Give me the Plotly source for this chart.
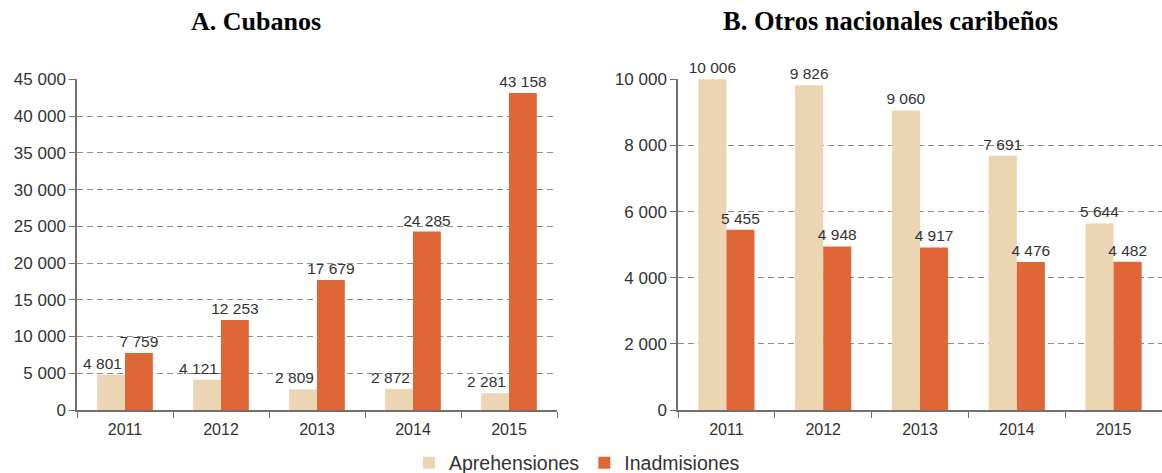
import plotly.graph_objects as go

years = ["2011", "2012", "2013", "2014", "2015"]

cubanos_aprehensiones = [4801, 4121, 2809, 2872, 2281]
cubanos_inadmisiones = [7759, 12253, 17679, 24285, 43158]

caribe_aprehensiones = [10006, 9826, 9060, 7691, 5644]
caribe_inadmisiones = [5455, 4948, 4917, 4476, 4482]

COLORS = {
    "aprehensiones": "#ebd5b2",
    "inadmisiones": "#df6737",
    "grid": "#8c8c8c",
    "axis": "#707070",
    "text": "#333333",
}

W, H = 1162, 473
FONT = "Liberation Sans, Arial, sans-serif"
SERIF = "Liberation Serif, Times New Roman, serif"
NBSP = "\u00a0"

fig = go.Figure()

panels = [
    ("x", "y", cubanos_aprehensiones, cubanos_inadmisiones, True),
    ("x2", "y2", caribe_aprehensiones, caribe_inadmisiones, False),
]
for xa, ya, aprehensiones, inadmisiones, show in panels:
    for name, vals in (("Aprehensiones", aprehensiones), ("Inadmisiones", inadmisiones)):
        # in panel A the small beige labels sit a little to the left of their bars
        tmpl = "%{y:,d}"
        if show and name == "Aprehensiones":
            tmpl += NBSP * 4
        fig.add_trace(go.Bar(
            x=years, y=vals, name=name, xaxis=xa, yaxis=ya,
            marker=dict(color=COLORS[name.lower()], line=dict(width=0)),
            texttemplate=tmpl, textposition="outside", constraintext="none",
            textfont=dict(size=15.5, color=COLORS["text"], family=FONT),
            cliponaxis=False, showlegend=show, legendgroup=name,
        ))


def xaxis(x0, x1):
    return dict(
        domain=[x0 / W, x1 / W], showline=True, linecolor=COLORS["axis"], linewidth=1.5,
        ticks="outside", tickson="boundaries", ticklen=6, tickcolor=COLORS["axis"],
        tickfont=dict(size=16, color=COLORS["text"], family=FONT), showgrid=False,
        ticklabelstandoff=4,
    )


def yaxis(top, dtick, anchor):
    return dict(
        domain=[1 - 410 / H, 1 - 79 / H], range=[0, top], dtick=dtick, anchor=anchor,
        showline=True, linecolor=COLORS["axis"], linewidth=1.5,
        ticks="outside", ticklen=6, tickcolor=COLORS["axis"],
        tickformat=",d", tickfont=dict(size=17, color=COLORS["text"], family=FONT),
        gridcolor=COLORS["grid"], griddash="6px,4px", gridwidth=1, zeroline=False,
        automargin=False,
    )


fig.update_layout(
    width=W, height=H,
    # keep the bottom legend from pushing the plot areas up
    margin=dict(l=0, r=0, t=0, b=0, autoexpand=False),
    paper_bgcolor="white",
    plot_bgcolor="white",
    separators=", ",
    barmode="group",
    bargap=0.42,
    bargroupgap=0,
    font=dict(family=FONT, color=COLORS["text"]),
    xaxis=dict(**xaxis(77, 557), anchor="y"),
    yaxis=yaxis(45050, 5000, "x"),
    xaxis2=dict(**xaxis(678, 1162), anchor="y2"),
    yaxis2=yaxis(10012, 2000, "x2"),
    legend=dict(
        orientation="h", x=577 / W, xanchor="center", y=1 - 463 / H, yanchor="middle",
        font=dict(size=19.5, color=COLORS["text"], family=FONT),
        bgcolor="rgba(0,0,0,0)", itemwidth=30,
    ),
    annotations=[
        dict(text="<b>A. Cubanos</b>", x=256 / W, y=1 - 21 / H, xref="paper", yref="paper",
             xanchor="center", yanchor="middle", showarrow=False,
             font=dict(size=26, family=SERIF, color="black")),
        dict(text="<b>B. Otros nacionales caribeños</b>", x=890 / W, y=1 - 21 / H, xref="paper", yref="paper",
             xanchor="center", yanchor="middle", showarrow=False,
             font=dict(size=26.5, family=SERIF, color="black")),
    ],
)

# the page's default body margin would push the figure 8px off the window
fig.write_html(
    "out.html",
    config={"displayModeBar": False},
    post_script="document.body.style.margin = '0px';",
)
